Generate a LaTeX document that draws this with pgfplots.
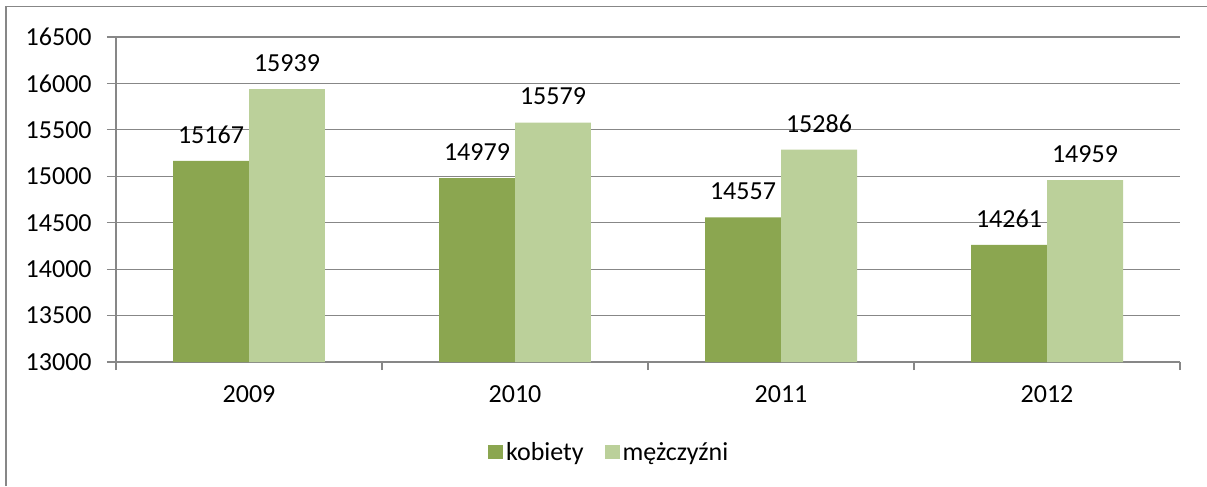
\documentclass[border=0pt]{standalone}
\usepackage{pgfplots}
\pgfplotsset{compat=1.18}
\usepackage{fontspec}
\setmainfont{Carlito}
\definecolor{kob}{HTML}{8BA650}
\definecolor{mez}{HTML}{BBD09A}
\definecolor{gridc}{HTML}{878787}
\begin{document}
\begin{tikzpicture}
\path[use as bounding box] (0,0) rectangle (905.25pt,364.5pt);
\draw[gridc,line width=1.3pt] (4.5pt,0) -- (4.5pt,359.6pt) -- (905.25pt,359.6pt);
\begin{axis}[
  at={(87pt,93pt)}, anchor=south west,
  scale only axis, width=798pt, height=243.75pt,
  ybar=0pt, bar width=0.2857,
  xmin=-0.5, xmax=3.5, ymin=13000, ymax=16500,
  ytick={13000,13500,...,16500},
  scaled y ticks=false,
  yticklabel style={/pgf/number format/fixed, /pgf/number format/1000 sep={}, xshift=-8pt},
  xtick={0,1,2,3}, xticklabels={2009,2010,2011,2012},
  minor xtick={-0.5,0.5,1.5,2.5,3.5},
  major x tick style={draw=none},
  minor tick length=6pt, major tick length=6.75pt,
  tick align=outside,
  ymajorgrids, grid style={gridc, line width=0.8pt},
  axis line style={gridc, line width=0.8pt},
  tick style={gridc, line width=0.8pt},
  axis x line*=bottom, axis y line*=left,
  /pgf/number format/assume math mode=true,
  /pgf/number format/1000 sep={},
  ticklabel style={font=\fontsize{19.5}{23}\selectfont, text=black},
  xticklabel style={yshift=-7.5pt},
  nodes near coords,
  nodes near coords style={font=\fontsize{19.5}{23}\selectfont, anchor=center, yshift=19.5pt, /pgf/number format/fixed, /pgf/number format/1000 sep={}},
  legend columns=2,
  legend style={draw=none, at={(0.464,-0.277)}, anchor=center, font=\fontsize{19.5}{23}\selectfont, /tikz/every even column/.append style={column sep=14pt}},
  legend image code/.code={\fill[#1] (0pt,-5.6pt) rectangle (11.25pt,5.6pt);},
]
\addplot[bar shift=-0.14285, fill=kob, draw=none] coordinates {(0,15167) (1,14979) (2,14557) (3,14261)};
\addplot[bar shift=0.14285, fill=mez, draw=none] coordinates {(0,15939) (1,15579) (2,15286) (3,14959)};
\legend{kobiety, mężczyźni}
\end{axis}
\end{tikzpicture}
\end{document}
